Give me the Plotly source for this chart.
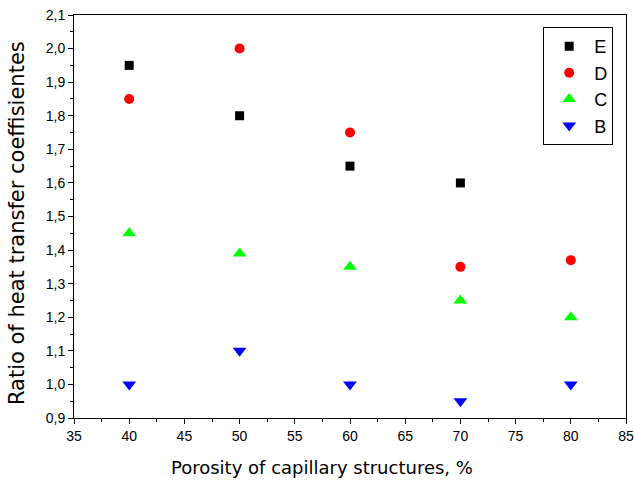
import plotly.graph_objects as go

x_vals = [40, 50, 60, 70, 80]
e_vals = [1.95, 1.80, 1.65, 1.60]
d_vals = [1.85, 2.00, 1.75, 1.35, 1.37]
c_vals = [1.45, 1.39, 1.35, 1.25, 1.20]
b_vals = [1.00, 1.10, 1.00, 0.95, 1.00]

x_title = "Porosity of capillary structures, %"
y_title = "Ratio of heat transfer coeffisientes"

y_ticks = [0.9 + 0.1 * i for i in range(13)]
y_labels = [f"{v:.1f}".replace(".", ",") for v in y_ticks]

fig = go.Figure()
fig.add_trace(go.Scatter(x=x_vals[:4], y=e_vals, mode="markers", name="E", legendgroup="E",
                         marker=dict(symbol="square", size=9, color="black")))
fig.add_trace(go.Scatter(x=x_vals, y=d_vals, mode="markers", name="D", legendgroup="D",
                         marker=dict(symbol="circle", size=10, color="red")))
fig.add_trace(go.Scatter(x=x_vals, y=c_vals, mode="markers", name="C", legendgroup="C",
                         marker=dict(symbol="triangle-up", size=12, color="#00ff00")))
fig.add_trace(go.Scatter(x=x_vals, y=b_vals, mode="markers", name="B", legendgroup="B",
                         marker=dict(symbol="triangle-down", size=12, color="blue")))

font = "Liberation Sans, Arial, sans-serif"
tfont = "DejaVu Sans, sans-serif"
axis_common = dict(showgrid=False, zeroline=False, showline=True, linecolor="black",
                   linewidth=1, mirror=True, ticks="outside", ticklen=5, tickcolor="black",
                   automargin=False,
                   tickfont=dict(size=14, color="black", family=font))

fig.update_xaxes(range=[35, 85], tick0=35, dtick=5,
                 minor=dict(ticks="outside", ticklen=3, dtick=2.5, tick0=35, tickcolor="black"),
                 **axis_common)
fig.update_yaxes(range=[0.9, 2.1], tickvals=y_ticks, ticktext=y_labels,
                 minor=dict(ticks="outside", ticklen=3, dtick=0.05, tick0=0.9, tickcolor="black"),
                 **axis_common)

fig.add_annotation(text=x_title, xref="paper", yref="paper", x=0.449, y=-0.1216,
                   xanchor="center", yanchor="middle", showarrow=False,
                   font=dict(size=18, color="black", family=tfont))
fig.add_annotation(text=y_title, xref="paper", yref="paper", x=-0.103, y=0.484,
                   xanchor="center", yanchor="middle", showarrow=False, textangle=-90,
                   font=dict(size=21, color="black", family=tfont))

fig.update_layout(
    width=634, height=484,
    margin=dict(l=74, r=8, t=15, b=66),
    plot_bgcolor="white", paper_bgcolor="white",
    legend=dict(x=0.85, y=0.97, xanchor="left", yanchor="top",
                bordercolor="black", borderwidth=1, bgcolor="white",
                font=dict(size=18, color="black", family=font),
                itemwidth=40, tracegroupgap=0, traceorder="grouped"),
)

fig.write_html("out.html", config={"displayModeBar": False},
               post_script="document.body.style.margin='0';document.body.style.padding='0';")
